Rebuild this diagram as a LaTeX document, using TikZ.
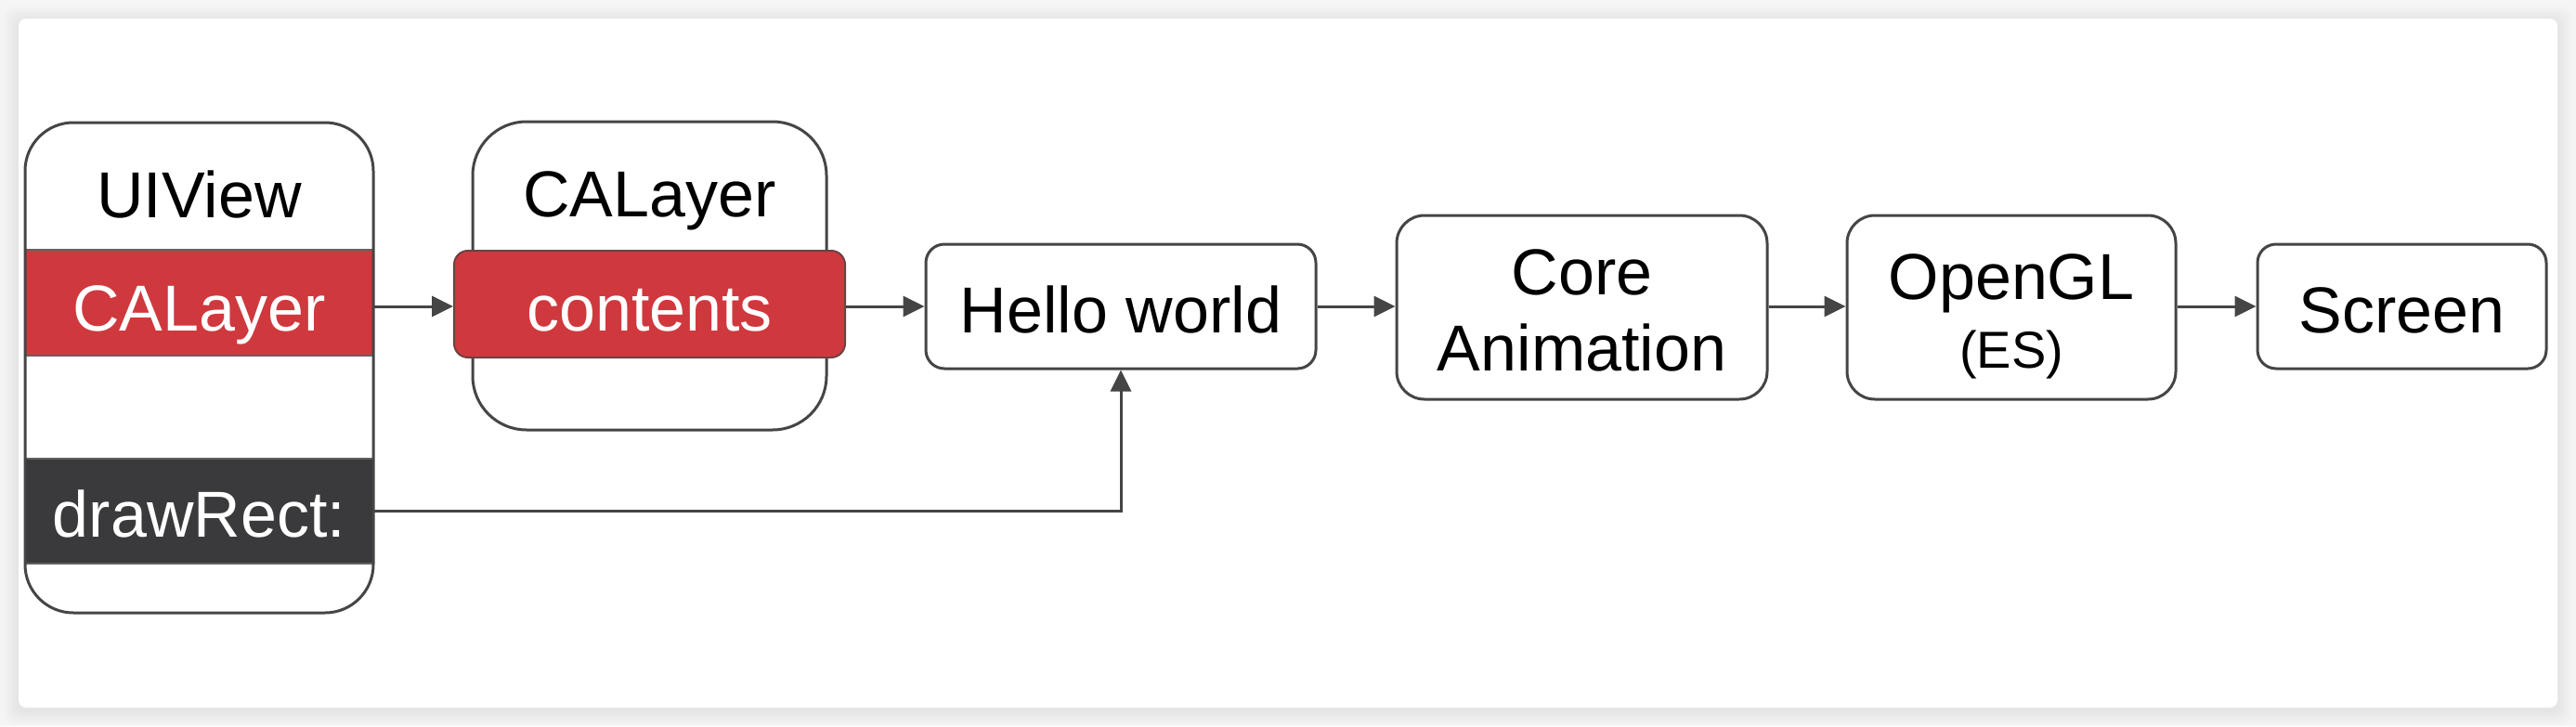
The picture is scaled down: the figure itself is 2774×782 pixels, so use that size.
\documentclass[tikz,border=0pt]{standalone}
\usepackage{fontspec}
\setmainfont{Liberation Sans}
\usetikzlibrary{arrows.meta}
\definecolor{linegray}{HTML}{454545}
\definecolor{bandred}{HTML}{CF393E}
\definecolor{banddark}{HTML}{3A3A3C}
\definecolor{pagebg}{HTML}{F5F5F5}
\tikzset{
  boxline/.style={draw=linegray, line width=3pt, fill=white, inner sep=0pt},
  redband/.style={fill=bandred, draw=linegray!85, line width=1.5pt, inner sep=0pt},
  darkband/.style={fill=banddark, draw=linegray!85, line width=1.5pt, inner sep=0pt},
  conn/.style={draw=linegray, line width=3pt, -{Triangle[length=23pt,width=22pt]}},
  lbl/.style={anchor=base, inner sep=0pt, font=\fontsize{70}{82}\selectfont},
  smalllbl/.style={anchor=base, inner sep=0pt, font=\fontsize{56}{62}\selectfont},
}
\begin{document}
\begin{tikzpicture}[x=1pt,y=-1pt]
\useasboundingbox (0,0) rectangle (2774,782);
% page background and card
\fill[pagebg] (0,0) rectangle (2774,782);
\foreach \d in {2,4,...,16} {
  \fill[black,opacity=0.006,rounded corners=10pt] (20-\d,20-\d+3) rectangle (2754+\d,762+\d+3);
}
\fill[white,rounded corners=8pt] (20,20) rectangle (2754,762);

% UIView box with bands
\node[boxline, draw=none, rounded corners=52pt, minimum width=375pt, minimum height=528pt] (uiviewbg) at (214.5,396) {};
\node[redband, minimum width=375pt, minimum height=114pt] (uicalayer) at (214.5,326) {};
\node[darkband, minimum width=375pt, minimum height=113pt] (drawrect) at (214.5,550.5) {};
\node[boxline, fill=none, rounded corners=52pt, minimum width=375pt, minimum height=528pt] (uiview) at (214.5,396) {};
\node[lbl] (t-uiview) at (214.5,234) {UIView};
\node[lbl, text=white] (t-uicalayer) at (214.5,356) {CALayer};
\node[lbl, text=white] (t-drawrect) at (214.5,578) {drawRect:};

% CALayer box with contents
\node[boxline, rounded corners=58pt, minimum width=381pt, minimum height=332pt] (calayer) at (699.5,297) {};
\node[lbl] (t-calayer) at (699.5,233) {CALayer};
\node[redband, draw=linegray!70!bandred, line width=2pt, rounded corners=15pt, minimum width=421pt, minimum height=115pt] (contents) at (699.5,327.5) {};
\node[lbl, text=white] (t-contents) at (699.5,356) {contents};

% pipeline boxes
\node[boxline, rounded corners=20pt, minimum width=420pt, minimum height=134pt] (hello) at (1207,330) {};
\node[lbl] (t-hello) at (1207,358) {Hello world};

\node[boxline, rounded corners=30pt, minimum width=399pt, minimum height=198pt] (coreanim) at (1703.5,331) {};
\node[lbl] (t-core) at (1703.5,317) {Core};
\node[lbl] (t-anim) at (1703.5,399) {Animation};

\node[boxline, rounded corners=30pt, minimum width=354pt, minimum height=198pt] (opengl) at (2166,331) {};
\node[lbl] (t-opengl) at (2166,322) {OpenGL};
\node[smalllbl] (t-es) at (2166,396) {(ES)};

\node[boxline, rounded corners=20pt, minimum width=311pt, minimum height=134pt] (screen) at (2586.5,330) {};
\node[lbl] (t-screen) at (2586.5,358) {Screen};

% connectors
\draw[conn] (uicalayer.east |- 0,330) -- (contents.west |- 0,330);
\draw[conn] (contents.east |- 0,330) -- (hello.west);
\draw[conn] (hello.east) -- (coreanim.west |- hello.east);
\draw[conn] (coreanim.east |- hello.east) -- (opengl.west |- hello.east);
\draw[conn] (opengl.east |- hello.east) -- (screen.west);
\draw[conn] (drawrect.east) -| (hello.south);
\end{tikzpicture}
\end{document}
